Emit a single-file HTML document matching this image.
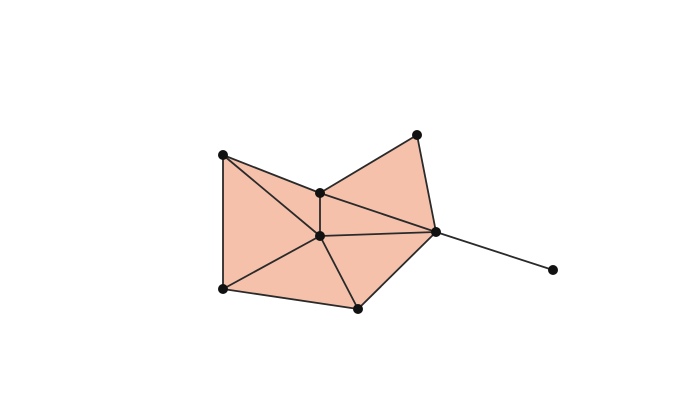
<!DOCTYPE html>
<html>
<head>
<meta charset="utf-8">
<style>
  html, body { margin: 0; padding: 0; background: #ffffff; }
  body { width: 678px; height: 414px; overflow: hidden; font-family: "Liberation Sans", sans-serif; }
  svg { display: block; }
</style>
</head>
<body>
<svg id="graph" width="678" height="414" viewBox="0 0 678 414" xmlns="http://www.w3.org/2000/svg">
  <g id="faces"></g>
  <g id="edges"></g>
  <g id="nodes"></g>
</svg>
<script>
const nodeIds = ["A", "B", "C", "D", "E", "F", "G", "H"];
const nodeX = [223, 320, 417, 320, 436, 553, 223, 358];
const nodeY = [155, 193, 135, 236, 232, 270, 289, 309];
const edgeFrom = ["A", "A", "A", "B", "B", "B", "C", "D", "D", "D", "G", "H", "E"];
const edgeTo   = ["G", "B", "D", "C", "D", "E", "E", "E", "G", "H", "H", "E", "F"];
const faceList = [["A", "B", "D"], ["A", "D", "G"], ["B", "C", "E"], ["B", "D", "E"], ["D", "E", "H"], ["D", "G", "H"]];

const NS = "http://www.w3.org/2000/svg";
function px(id) { return nodeX[nodeIds.indexOf(id)]; }
function py(id) { return nodeY[nodeIds.indexOf(id)]; }

const facesG = document.getElementById("faces");
faceList.forEach(function (f) {
  const p = document.createElementNS(NS, "polygon");
  p.setAttribute("points", f.map(function (id) { return px(id) + "," + py(id); }).join(" "));
  p.setAttribute("fill", "#f5c1ab");
  p.setAttribute("stroke", "#f5c1ab");
  p.setAttribute("stroke-width", "1");
  
  
  facesG.appendChild(p);
});

const edgesG = document.getElementById("edges");
edgeFrom.forEach(function (a, i) {
  const b = edgeTo[i];
  const l = document.createElementNS(NS, "line");
  l.setAttribute("x1", px(a)); l.setAttribute("y1", py(a));
  l.setAttribute("x2", px(b)); l.setAttribute("y2", py(b));
  l.setAttribute("stroke", "#2a2a2a");
  l.setAttribute("stroke-width", "1.8");
  
  
  edgesG.appendChild(l);
});

const nodesG = document.getElementById("nodes");
nodeIds.forEach(function (id, i) {
  const c = document.createElementNS(NS, "circle");
  c.setAttribute("cx", nodeX[i]);
  c.setAttribute("cy", nodeY[i]);
  c.setAttribute("r", "5");
  c.setAttribute("fill", "#111111");
  
  
  nodesG.appendChild(c);
});
</script>
</body>
</html>
